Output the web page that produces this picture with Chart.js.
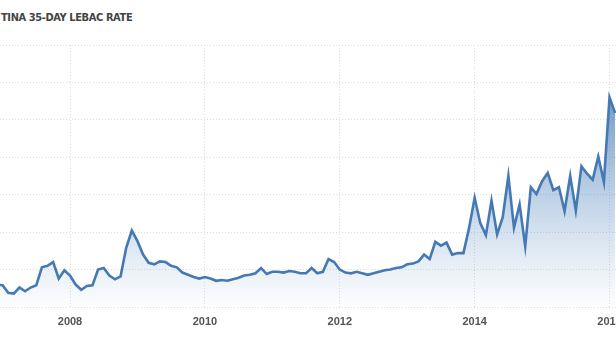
<!DOCTYPE html>
<html>
<head>
<meta charset="utf-8">
<script src="https://cdn.jsdelivr.net/npm/chart.js@4.4.1/dist/chart.umd.min.js"></script>
<style>
  html, body { margin: 0; padding: 0; background: #fff; overflow: hidden; }
  #wrap { position: relative; width: 616px; height: 346px; }
  #title { position: absolute; left: 1px; top: 11px; font: bold 11px "DejaVu Sans Condensed", "DejaVu Sans", sans-serif; color: #444; letter-spacing: -0.4px; }
  canvas { position: absolute; left: 0; top: 0; }
</style>
</head>
<body>
<div id="wrap">
  <div id="title">TINA 35-DAY LEBAC RATE</div>
  <canvas id="myChart" width="616" height="346"></canvas>
</div>
<script>
// monthly series, first value is Dec 2006
const firstYear = 2006;
const firstMonth = 12;
const rates = [
  8.0, 7.9, 6.9, 6.8, 7.6, 7.1, 7.6, 7.9, 10.3, 10.5, 11.0, 8.8, 9.9,
  9.2, 8.0, 7.3, 7.8, 7.9, 10.0, 10.2, 9.2, 8.7, 9.1, 12.9, 15.2, 13.8,
  12.0, 10.9, 10.7, 11.1, 11.0, 10.5, 10.3, 9.6, 9.3, 9.0, 8.8, 9.0,
  8.8, 8.5, 8.6, 8.5, 8.7, 8.9, 9.2, 9.3, 9.5, 10.2, 9.4, 9.7, 9.7,
  9.6, 9.8, 9.7, 9.5, 9.5, 10.2, 9.5, 9.7, 11.4, 11.0, 10.0, 9.6, 9.5,
  9.7, 9.5, 9.3, 9.5, 9.7, 9.9, 10.0, 10.2, 10.3, 10.7, 10.8, 11.1,
  12.0, 11.4, 13.7, 13.2, 13.6, 12.0, 12.2, 12.2, 15.5, 19.6, 16.2,
  14.6, 19.2, 14.7, 17.0, 22.5, 15.6, 18.7, 13.1, 21.0, 20.1, 21.8,
  22.9, 20.6, 21.0, 17.8, 22.5, 17.9, 23.8, 22.8, 22.0, 25.1, 21.7,
  33.0, 30.9
];
const tickYears = [2008, 2010, 2012, 2014, 2016];
const xMin = 2006.962;
const xMax = 2016.096;

const points = rates.map((v, i) => ({
  x: firstYear + (firstMonth - 1 + i) / 12,
  y: v
}));

const ctx = document.getElementById("myChart").getContext("2d");

function fillGradient(context) {
  const area = context.chart.chartArea;
  if (!area) return 'rgba(74,127,184,0.3)';
  const g = context.chart.ctx.createLinearGradient(0, area.top, 0, area.bottom);
  g.addColorStop(0, 'rgba(62,118,178,0.95)');
  g.addColorStop(0.5, 'rgba(80,132,188,0.45)');
  g.addColorStop(1, 'rgba(120,160,205,0.02)');
  return g;
}

let chart = new Chart(ctx, {
    type: 'line',
    data: {
        datasets: [{
            data: points,
            fill: 'start',
            borderColor: '#4479b3',
            borderWidth: 2.6,
            backgroundColor: fillGradient,
            pointRadius: 0,
            tension: 0
        }]
    },
    options: {
        responsive: false,
        animation: false,
        events: [],
        layout: { padding: { top: 45, left: 0, right: 0, bottom: 0 } },
        plugins: {
            legend: { display: false },
            tooltip: { enabled: false }
        },
        scales: {
            x: {
                type: 'linear',
                min: xMin,
                max: xMax,
                grid: { color: '#dcdcdc', drawTicks: false },
                border: { display: false, dash: [1, 2] },
                ticks: {
                    padding: 8,
                    color: '#555',
                    font: { family: 'Liberation Sans', size: 11, weight: 'bold' },
                    maxRotation: 0,
                    autoSkip: false,
                    callback: v => String(v)
                },
                afterBuildTicks: scale => {
                    scale.ticks = tickYears.map(y => ({ value: y }));
                },
                afterFit: scale => {
                    scale.height = 39;
                    scale.paddingLeft = 0;
                    scale.paddingRight = 0;
                }
            },
            y: {
                min: 5,
                max: 40,
                grid: { color: '#dcdcdc', drawTicks: false },
                border: { display: false, dash: [1, 2] },
                ticks: { display: false, stepSize: 5 },
                afterFit: scale => { scale.width = 0; }
            }
        }
    }
});
</script>
</body>
</html>
